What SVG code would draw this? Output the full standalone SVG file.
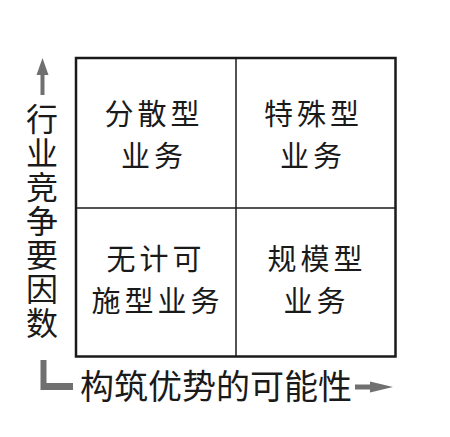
<svg xmlns="http://www.w3.org/2000/svg" width="450" height="437" viewBox="0 0 450 437">
<style>
text{font-family:"Noto Sans CJK SC","Noto Sans CJK TC",sans-serif;fill:#1a1a1a;}
.q{font-size:29px;text-anchor:middle;letter-spacing:4px;}
.ax{font-size:32px;writing-mode:vertical-rl;text-orientation:upright;letter-spacing:2px;}
.grid{stroke:#1a1a1a;fill:none;}
.arr{fill:#707070;}
</style>
<rect width="450" height="437" fill="#ffffff"/>
<g id="grid">
<rect class="grid" x="76" y="58" width="319.5" height="298.5" stroke-width="2.5"/>
<line class="grid" x1="236" y1="58" x2="236" y2="356.5" stroke-width="1.5"/>
<line class="grid" x1="76" y1="208" x2="395.5" y2="208" stroke-width="1.5"/>
</g>
<g id="q-top-left"><text class="q" x="154" y="125">分散型</text><text class="q" x="154" y="167">业务</text></g>
<g id="q-top-right"><text class="q" x="313.5" y="125">特殊型</text><text class="q" x="313" y="167">业务</text></g>
<g id="q-bottom-left"><text class="q" x="156" y="270">无计可</text><text class="q" x="157.5" y="312">施型业务</text></g>
<g id="q-bottom-right"><text class="q" x="317" y="270">规模型</text><text class="q" x="316.5" y="312">业务</text></g>
<g id="connectors">
<polygon class="arr" points="42.5,58 48.5,75 44.5,75 44.5,95 40.5,95 40.5,75 36.5,75"/>
<polygon class="arr" points="40.5,360 46.5,360 46.5,383 73,383 73,390 40.5,390"/>
<polygon class="arr" points="355,384.5 370,384.5 370,381.5 393,387 370,392.5 370,389.5 355,389.5"/>
</g>
<g id="axis-y"><text class="ax" x="42" y="103">行业竞争要因数</text></g>
<g id="axis-x"><text x="80" y="398.5" style="font-size:34px">构筑优势的可能性</text></g>
</svg>
